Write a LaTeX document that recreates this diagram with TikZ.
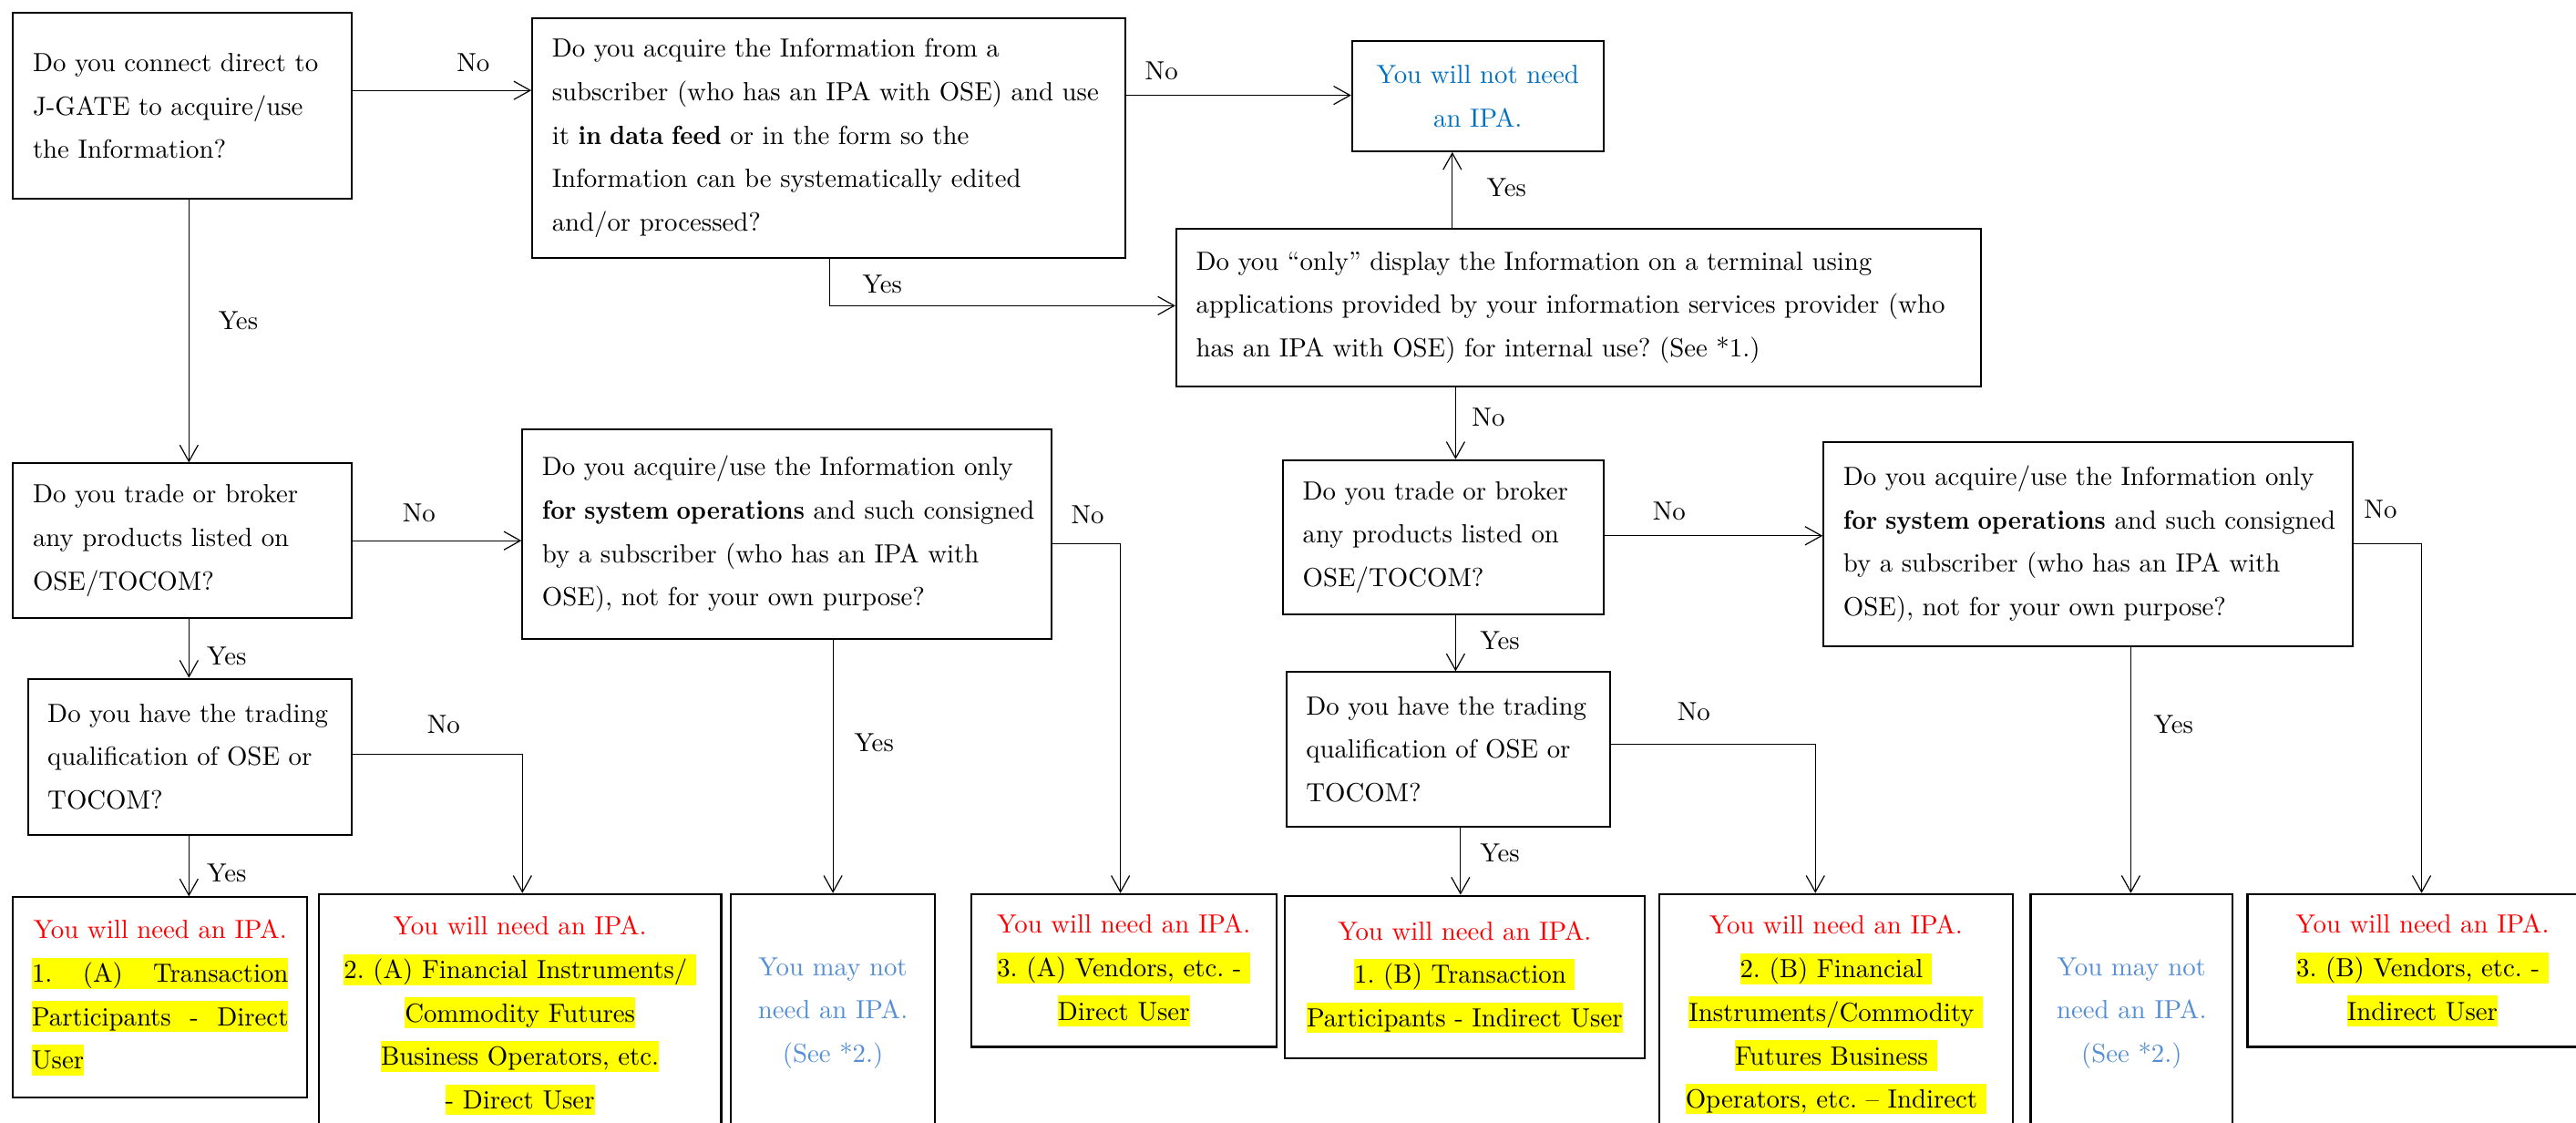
\documentclass[tikz,border=0pt]{standalone}
\usepackage{fontspec}
\usepackage{graphicx}
\usetikzlibrary{arrows.meta}
\frenchspacing
\definecolor{ipablue}{RGB}{0,112,192}
\definecolor{mayblue}{RGB}{85,142,213}
\definecolor{hlyellow}{RGB}{255,255,0}
\definecolor{ipared}{RGB}{255,0,0}
\newcommand\hl[1]{{\setlength\fboxsep{0pt}\colorbox{hlyellow}{\rule[-2.2pt]{0pt}{11.2pt}#1}}}
\newcommand\bfx[1]{\scalebox{0.93}[1]{\textbf{#1}}}
\newcommand\bx[8]{%
  \pgfmathsetmacro\bxw{(#6-#4)*0.601}%
  \pgfmathsetmacro\bxh{(#7-#5)*0.601}%
  \pgfmathsetmacro\bxt{\bxw-2*#2}%
  \node[#1, inner xsep=#2pt, minimum width=\bxw pt, minimum height=\bxh pt, text width=\bxt pt] (#3) at ({(#4+#6)/2},{(#5+#7)/2}) {#8};}
\newcommand\need{\textcolor{ipared}{You will need an IPA.}}
\begin{document}
\begin{tikzpicture}[x=0.601pt,y=-0.601pt,
  every node/.style={font=\fontsize{9.6}{15.9}\selectfont},
  qbox/.style={draw, line width=0.7pt, inner ysep=0pt, align=left},
  rbox/.style={draw, line width=0.7pt, inner ysep=0pt, align=center},
  arr/.style={line width=0.4pt, -{Straight Barb[length=6pt,width=6.7pt]}},
  lbl/.style={inner sep=0pt}]
\path[use as bounding box] (0,0) rectangle (1568,683);
\clip (0,0) rectangle (1568,683);

% question boxes
\bx{qbox}{7.2}{A}{8}{8}{214}{121}{\mbox{Do you connect direct to}\\\mbox{J-GATE to acquire/use}\\the Information?}
\bx{qbox}{7.2}{B}{324}{11}{685}{157}{\mbox{Do you acquire the Information from a}\\\mbox{subscriber (who has an IPA with OSE) and use}\\\mbox{it \bfx{in data feed} or in the form so the}\\\mbox{Information can be systematically edited}\\and/or processed?}
\bx{rbox,text=ipablue}{3}{C}{823}{25}{976}{92}{You will not need\\an IPA.}
\bx{qbox}{7.2}{D}{716}{139}{1206}{235}{\mbox{Do you ``only'' display the Information on a terminal using}\\\mbox{applications provided by your information services provider (who}\\\mbox{has an IPA with OSE) for internal use? (See *1.)}}
\bx{qbox}{7.2}{E}{8}{282}{214}{376}{\mbox{Do you trade or broker}\\\mbox{any products listed on}\\OSE/TOCOM?}
\bx{qbox}{7.2}{F}{318}{261}{640}{389}{\mbox{Do you acquire/use the Information only}\\\mbox{\bfx{for system operations} and such consigned}\\\mbox{by a subscriber (who has an IPA with}\\\mbox{OSE), not for your own purpose?}}
\bx{qbox}{7.2}{G}{17}{413}{214}{508}{\mbox{Do you have the trading}\\\mbox{qualification of OSE or}\\TOCOM?}
\bx{qbox}{7.2}{H}{781}{280}{976}{374}{\mbox{Do you trade or broker}\\\mbox{any products listed on}\\OSE/TOCOM?}
\bx{qbox}{7.2}{I}{1110}{269}{1432}{393}{\mbox{Do you acquire/use the Information only}\\\mbox{\bfx{for system operations} and such consigned}\\\mbox{by a subscriber (who has an IPA with}\\\mbox{OSE), not for your own purpose?}}
\bx{qbox}{7.2}{J}{783}{409}{980}{503}{\mbox{Do you have the trading}\\\mbox{qualification of OSE or}\\TOCOM?}

% result boxes
\bx{rbox}{3.6}{R1}{8}{546}{187}{668}{\mbox{\need}\\\hl{\makebox[93.8pt][l]{1.\hfill(A)\hfill Transaction}}\\\hl{\makebox[93.8pt][l]{Participants\hfill-\hfill Direct}}\\\makebox[93.8pt][l]{\hl{User}}}
\bx{rbox}{3}{R2}{194}{544}{439}{692}{\need\\\hl{2. (A) Financial Instruments/\ }\\\hl{Commodity Futures}\\\hl{Business Operators, etc.}\\\hl{- Direct User}}
\bx{rbox,text=mayblue}{3}{R3}{445}{544}{569}{689}{You may not\\need an IPA.\\(See *2.)}
\bx{rbox}{3}{R4}{591}{544}{777}{637}{\need\\\hl{3. (A) Vendors, etc. -\ }\\\hl{Direct User}}
\bx{rbox}{3}{R5}{782}{545}{1001}{644}{\need\\\hl{1. (B) Transaction\ }\\\hl{Participants - Indirect User}}
\bx{rbox}{3}{R6}{1010}{544}{1225}{691}{\need\\\hl{2. (B) Financial\ }\\\hl{Instruments/Commodity\ }\\\hl{Futures Business\ }\\\hl{Operators, etc. -- Indirect\ }}
\bx{rbox,text=mayblue}{3}{R7}{1236}{544}{1359}{689}{You may not\\need an IPA.\\(See *2.)}
\bx{rbox}{3}{R8}{1368}{544}{1581}{637}{\need\\\hl{3. (B) Vendors, etc. -\ }\\\hl{Indirect User}}

% connectors
\draw[arr] (A.east |- 0,55) -- (B.west |- 0,55);
\draw[arr] (B.east |- 0,58) -- (C.west |- 0,58);
\draw[arr] (A.south -| 115,0) -- (E.north -| 115,0);
\draw[arr] (B.south -| 505,0) |- (D.west |- 0,186);
\draw[arr] (D.north -| 884,0) -- (C.south -| 884,0);
\draw[arr] (D.south -| 886,0) -- (H.north -| 886,0);
\draw[arr] (E.east |- 0,329) -- (F.west |- 0,329);
\draw[arr] (E.south -| 115,0) -- (G.north -| 115,0);
\draw[arr] (G.south -| 115,0) -- (R1.north -| 115,0);
\draw[arr] (G.east |- 0,459) -| (R2.north -| 318,0);
\draw[arr] (F.south -| 507,0) -- (R3.north -| 507,0);
\draw[arr] (F.east |- 0,331) -| (R4.north -| 682,0);
\draw[arr] (H.east |- 0,326) -- (I.west |- 0,326);
\draw[arr] (H.south -| 886,0) -- (J.north -| 886,0);
\draw[arr] (J.south -| 889,0) -- (R5.north -| 889,0);
\draw[arr] (J.east |- 0,453) -| (R6.north -| 1105,0);
\draw[arr] (I.south -| 1297,0) -- (R7.north -| 1297,0);
\draw[arr] (I.east |- 0,331) -| (R8.north -| 1474,0);

% labels
\node[lbl] (l1) at (288,38) {No};
\node[lbl] (l2) at (707,43) {No};
\node[lbl] (l3) at (145,195) {Yes};
\node[lbl] (l4) at (537,173) {Yes};
\node[lbl] (l5) at (917,114) {Yes};
\node[lbl] (l6) at (906,254) {No};
\node[lbl] (l7) at (255,312) {No};
\node[lbl] (l8) at (138,399) {Yes};
\node[lbl] (l9) at (138,531) {Yes};
\node[lbl] (l10) at (270,441) {No};
\node[lbl] (l11) at (532,452) {Yes};
\node[lbl] (l12) at (662,313) {No};
\node[lbl] (l13) at (1016,311) {No};
\node[lbl] (l14) at (913,390) {Yes};
\node[lbl] (l15) at (913,519) {Yes};
\node[lbl] (l16) at (1031,433) {No};
\node[lbl] (l17) at (1323,441) {Yes};
\node[lbl] (l18) at (1449,310) {No};
\end{tikzpicture}
\end{document}
